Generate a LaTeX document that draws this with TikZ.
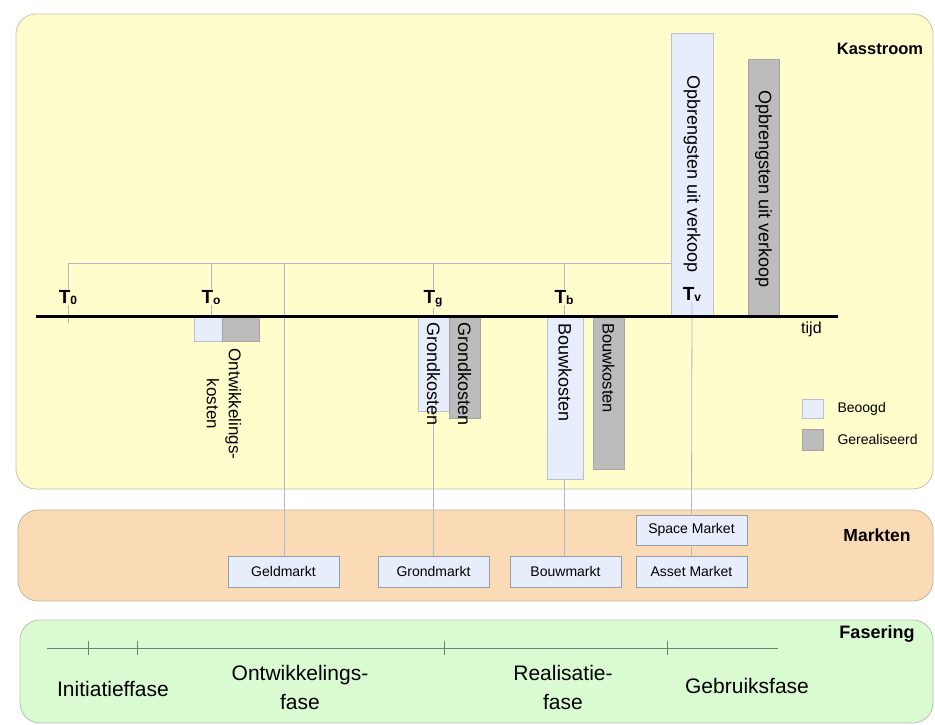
\documentclass[tikz,border=0pt]{standalone}
\usepackage{fontspec}
\setmainfont{Liberation Sans}
\definecolor{kasfill}{RGB}{255,253,204}
\definecolor{kasdraw}{RGB}{196,196,176}
\definecolor{markfill}{RGB}{251,219,182}
\definecolor{markdraw}{RGB}{196,180,160}
\definecolor{fasfill}{RGB}{218,250,210}
\definecolor{fasdraw}{RGB}{180,196,176}
\definecolor{beofill}{RGB}{231,237,251}
\definecolor{beodraw}{RGB}{186,192,206}
\definecolor{gerfill}{RGB}{188,188,188}
\definecolor{gerdraw}{RGB}{165,165,165}
\definecolor{connc}{RGB}{172,186,202}
\definecolor{fasline}{RGB}{110,130,110}
\definecolor{mboxdraw}{RGB}{150,160,172}
\newcommand\tlabel[1]{T\raisebox{-0.1ex}{\fontsize{12}{12}\selectfont #1}}
\begin{document}
\begin{tikzpicture}[x=1pt,y=-1pt,
  panel/.style={draw=#1, line width=0.8pt, rounded corners=20pt},
  conn/.style={draw=connc, line width=0.8pt},
  beobar/.style={draw=beodraw, fill=beofill, line width=0.6pt},
  gerbar/.style={draw=gerdraw, fill=gerfill, line width=0.6pt},
  bartext/.style={rotate=-90, anchor=west, inner sep=0pt, font=\fontsize{#1}{#1}\selectfont},
  tlab/.style={fill=#1, inner sep=1pt, anchor=base, font=\bfseries\fontsize{19}{19}\selectfont},
  mbox/.style={draw=mboxdraw, fill=beofill, line width=0.6pt, minimum width=111pt,
    minimum height=31pt, inner sep=0pt, font=\fontsize{14}{14}\selectfont},
  title/.style={anchor=base, font=\bfseries\fontsize{#1}{#1}\selectfont},
  fastext/.style={align=center, font=\fontsize{21}{29}\selectfont},
  legtext/.style={anchor=west, font=\fontsize{14}{14}\selectfont}
]
\useasboundingbox (0,0) rectangle (935,725);
\fill[white] (0,0) rectangle (935,725);

% panels
\path[panel=kasdraw, fill=kasfill] (16,14) rectangle (933,489);
\path[panel=markdraw, fill=markfill] (18,510) rectangle (933,601);
\path[panel=fasdraw, fill=fasfill] (20,620) rectangle (933,723);

% market boxes
\node[mbox] (geld) at (283.5,571.5) {Geldmarkt};
\node[mbox] (grond) at (433.5,571.5) {Grondmarkt};
\node[mbox] (bouw) at (565.5,571.5) {Bouwmarkt};
\node[mbox, minimum height=30pt] (space) at (691.5,530) {Space Market};
\node[mbox] (asset) at (691.5,571.5) {Asset Market};

% connector coordinates
\coordinate (h0) at (68,263);
\coordinate (ho) at (211,263);
\coordinate (hgeld) at (284,263);
\coordinate (hg) at (433,263);
\coordinate (hb) at (564,263);
\coordinate (hv) at (692,263);
\coordinate (e0) at (68,323);
\coordinate (eo) at (211,323);

\draw[conn] (h0) -- (hv);
\draw[conn] (h0) -- (e0);
\draw[conn] (ho) -- (eo);
\draw[conn] (hgeld) -- (geld.north -| hgeld);
\draw[conn] (hg) -- (grond.north -| hg);
\draw[conn] (hb) -- (bouw.north -| hb);
\draw[conn] (space.south) -- (asset.north);

% bars
\draw[beobar] (194,316) rectangle (222,341);
\draw[gerbar] (222,316) rectangle (259,341);
\draw[beobar] (418,316) rectangle (449,411);
\draw[gerbar] (449,316) rectangle (480,418);
\draw[beobar] (547,316) rectangle (583,479);
\draw[gerbar] (593,316) rectangle (624,469);
\draw[beobar] (671,33) rectangle (713,316);
\draw[gerbar] (748,59) rectangle (779,316);

% bar texts
\node[bartext=18] (tgb) at (433.5,322) {Grondkosten};
\node[bartext=18] (tgg) at (464.5,322) {Grondkosten};
\node[bartext=18] (tbb) at (565,323) {Bouwkosten};
\node[bartext=16.5] (tbg) at (608.5,323) {Bouwkosten};
\node[bartext=18] (tvb) at (692,75) {Opbrengsten uit verkoop};
\node[bartext=18] (tvg) at (763.5,90) {Opbrengsten uit verkoop};
\node[rotate=-90, align=center, inner sep=0pt, font=\fontsize{17}{22}\selectfont] (ontk) at (224,404) {Ontwikkelings-\\kosten};

% T labels
\node[tlab=kasfill] (t0) at (68,303) {\tlabel{0}};
\node[tlab=kasfill] (to) at (211,303) {\tlabel{o}};
\node[tlab=kasfill] (tg) at (433,303) {\tlabel{g}};
\node[tlab=kasfill] (tb) at (564,303) {\tlabel{b}};
\node[tlab=beofill] (tv) at (692,300) {\tlabel{v}};
\draw[conn] (tv.south) -- (space.north);

% timeline
\coordinate (tl0) at (36,316.5);
\coordinate (tl1) at (838,316.5);
\draw[black, line width=2.4pt] (tl0) -- (tl1);
\node[anchor=west, inner sep=0pt, font=\fontsize{16}{16}\selectfont] (tijd) at (801,329) {tijd};

% legend
\draw[beobar] (802,399) rectangle (823,418);
\draw[gerbar] (802,429) rectangle (823,450);
\node[legtext] (lb) at (834,408.5) {Beoogd};
\node[legtext] (lg) at (834,439.5) {Gerealiseerd};

% titles
\node[title=16.5] (kas) at (880,55) {Kasstroom};
\node[title=17.5] (mark) at (877,541) {Markten};
\node[title=18] (fas) at (877,638) {Fasering};

% fasering
\coordinate (f0) at (47,648);
\coordinate (f1) at (778,648);
\draw[fasline, line width=0.7pt] (f0) -- (f1);
\foreach \x in {88,137,444,667} \draw[fasline, line width=0.7pt] (\x,641) -- (\x,655);
\node[fastext, anchor=base] (p1) at (113,696) {Initiatieffase};
\node[fastext] (p2) at (300,687) {Ontwikkelings-\\fase};
\node[fastext] (p3) at (563,687) {Realisatie-\\fase};
\node[fastext, anchor=base] (p4) at (747,693) {Gebruiksfase};
\end{tikzpicture}
\end{document}
